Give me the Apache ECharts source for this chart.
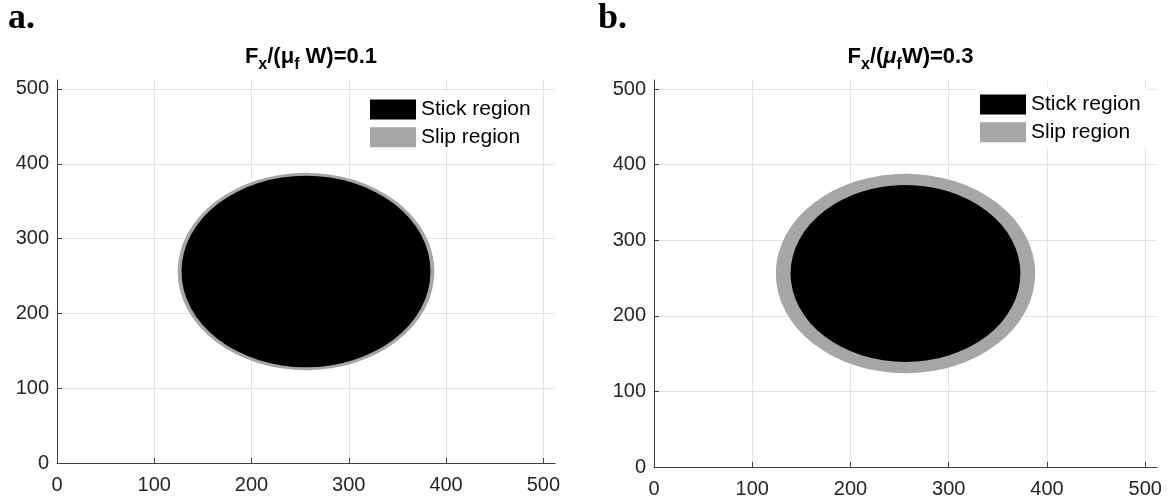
<!DOCTYPE html>
<html>
<head>
<meta charset="utf-8">
<script src="https://cdn.jsdelivr.net/npm/echarts@6/dist/echarts.min.js"></script>
<style>
  html, body { margin: 0; padding: 0; background: #fff; }
  #chart { width: 1168px; height: 499px; }
</style>
</head>
<body>
<div id="chart"></div>
<script>
// Contact patch under tangential load: stick zone inside the contact circle,
// slip annulus between stick radius and contact radius (pixel units).
const panelLetters = ['a.', 'b.'];
const forceRatio = [0.1, 0.3];          // Fx / (mu_f W)
const centerX = [256, 256];
const centerY = [256, 256];
const contactRadius = [132, 132];       // outer edge of slip region
const stickRadius = [128, 117];         // edge of stick region
const axisTicks = [0, 100, 200, 300, 400, 500];
const axisMax = 512;

const SLIP_COLOR = '#a6a6a6';
const STICK_COLOR = '#000000';
const FONT = '"Liberation Sans", Arial, Helvetica, sans-serif';

// plot-area boxes for the two panels
const grids = [
  { left: 57, top: 80, width: 498, height: 383 },
  { left: 654, top: 80, width: 503, height: 387 }
];
const legendPos = [
  { left: 365, top: 92 },
  { left: 975, top: 87 }
];

function discItem(params, api) {
  const c = api.coord([api.value(0), api.value(1)]);
  const s = api.size([api.value(2), api.value(2)]);
  return {
    type: 'circle',
    x: c[0], y: c[1],
    scaleY: s[1] / s[0],
    shape: { cx: 0, cy: 0, r: s[0] },
    style: { fill: api.visual('color') }
  };
}

function axisCommon(gridIndex) {
  return {
    type: 'value', gridIndex: gridIndex, min: 0, max: axisMax, interval: 100,
    axisLine: { show: true, onZero: false, lineStyle: { color: '#404040', width: 1 } },
    axisTick: { show: true, inside: true, length: 5, customValues: axisTicks,
      lineStyle: { color: '#404040' } },
    axisLabel: { customValues: axisTicks, color: '#262626', fontSize: 20, fontFamily: FONT },
    splitLine: { show: true, lineStyle: { color: ['#e3e3e3', '#e3e3e3', '#e3e3e3', '#e3e3e3',
      '#e3e3e3', '#e3e3e3', 'rgba(0,0,0,0)'], width: 1 } }
  };
}

const xAxes = [], yAxes = [], series = [], legends = [], titles = [], letters = [];
grids.forEach(function (g, i) {
  const xa = axisCommon(i);
  xa.axisLabel.margin = 12;
  xAxes.push(xa);
  const ya = axisCommon(i);
  ya.axisLabel.margin = 8;
  yAxes.push(ya);

  series.push({
    type: 'custom', name: 'Slip region', coordinateSystem: 'cartesian2d',
    xAxisIndex: i, yAxisIndex: i, silent: true, z: 2,
    itemStyle: { color: SLIP_COLOR },
    data: [[centerX[i], centerY[i], contactRadius[i]]],
    renderItem: discItem
  });
  series.push({
    type: 'custom', name: 'Stick region', coordinateSystem: 'cartesian2d',
    xAxisIndex: i, yAxisIndex: i, silent: true, z: 3,
    itemStyle: { color: STICK_COLOR },
    data: [[centerX[i], centerY[i], stickRadius[i]]],
    renderItem: discItem
  });

  legends.push({
    orient: 'vertical', left: legendPos[i].left, top: legendPos[i].top,
    padding: [7, 6, 5, 5], itemWidth: 46, itemHeight: 20, itemGap: 6.7,
    icon: 'rect', backgroundColor: '#ffffff', selectedMode: false,
    textStyle: { fontSize: 21, color: '#000', fontFamily: FONT, lineHeight: 20 },
    data: ['Stick region', 'Slip region']
  });

  const mu = i === 0 ? '{m|μ}' : '{mi|μ}';
  const gap = i === 0 ? ' ' : '';
  titles.push({
    text: '{m|F}{s|x}{m|/(}' + mu + '{s|f}{m|' + gap + 'W)=' + forceRatio[i].toFixed(1) + '}',
    left: g.left + g.width / 2, top: 35, textAlign: 'center',
    textStyle: {
      rich: {
        m: { fontSize: 22, fontWeight: 'bold', color: '#000', fontFamily: FONT },
        mi: { fontSize: 22, fontWeight: 'bold', fontStyle: 'italic', color: '#000', fontFamily: FONT },
        s: { fontSize: 16, fontWeight: 'bold', color: '#000', fontFamily: FONT, padding: [17, 0, 0, 0] }
      }
    }
  });

  letters.push({
    type: 'text', left: i === 0 ? 8 : 598, top: 1,
    style: { text: panelLetters[i], font: 'bold 36px "Liberation Serif", "Times New Roman", serif', fill: '#000' }
  });
});

const chart = echarts.init(document.getElementById('chart'), null, { renderer: 'canvas' });
chart.setOption({
  animation: false,
  backgroundColor: '#ffffff',
  title: titles,
  grid: grids,
  xAxis: xAxes,
  yAxis: yAxes,
  legend: legends,
  series: series,
  graphic: letters
});
</script>
</body>
</html>
